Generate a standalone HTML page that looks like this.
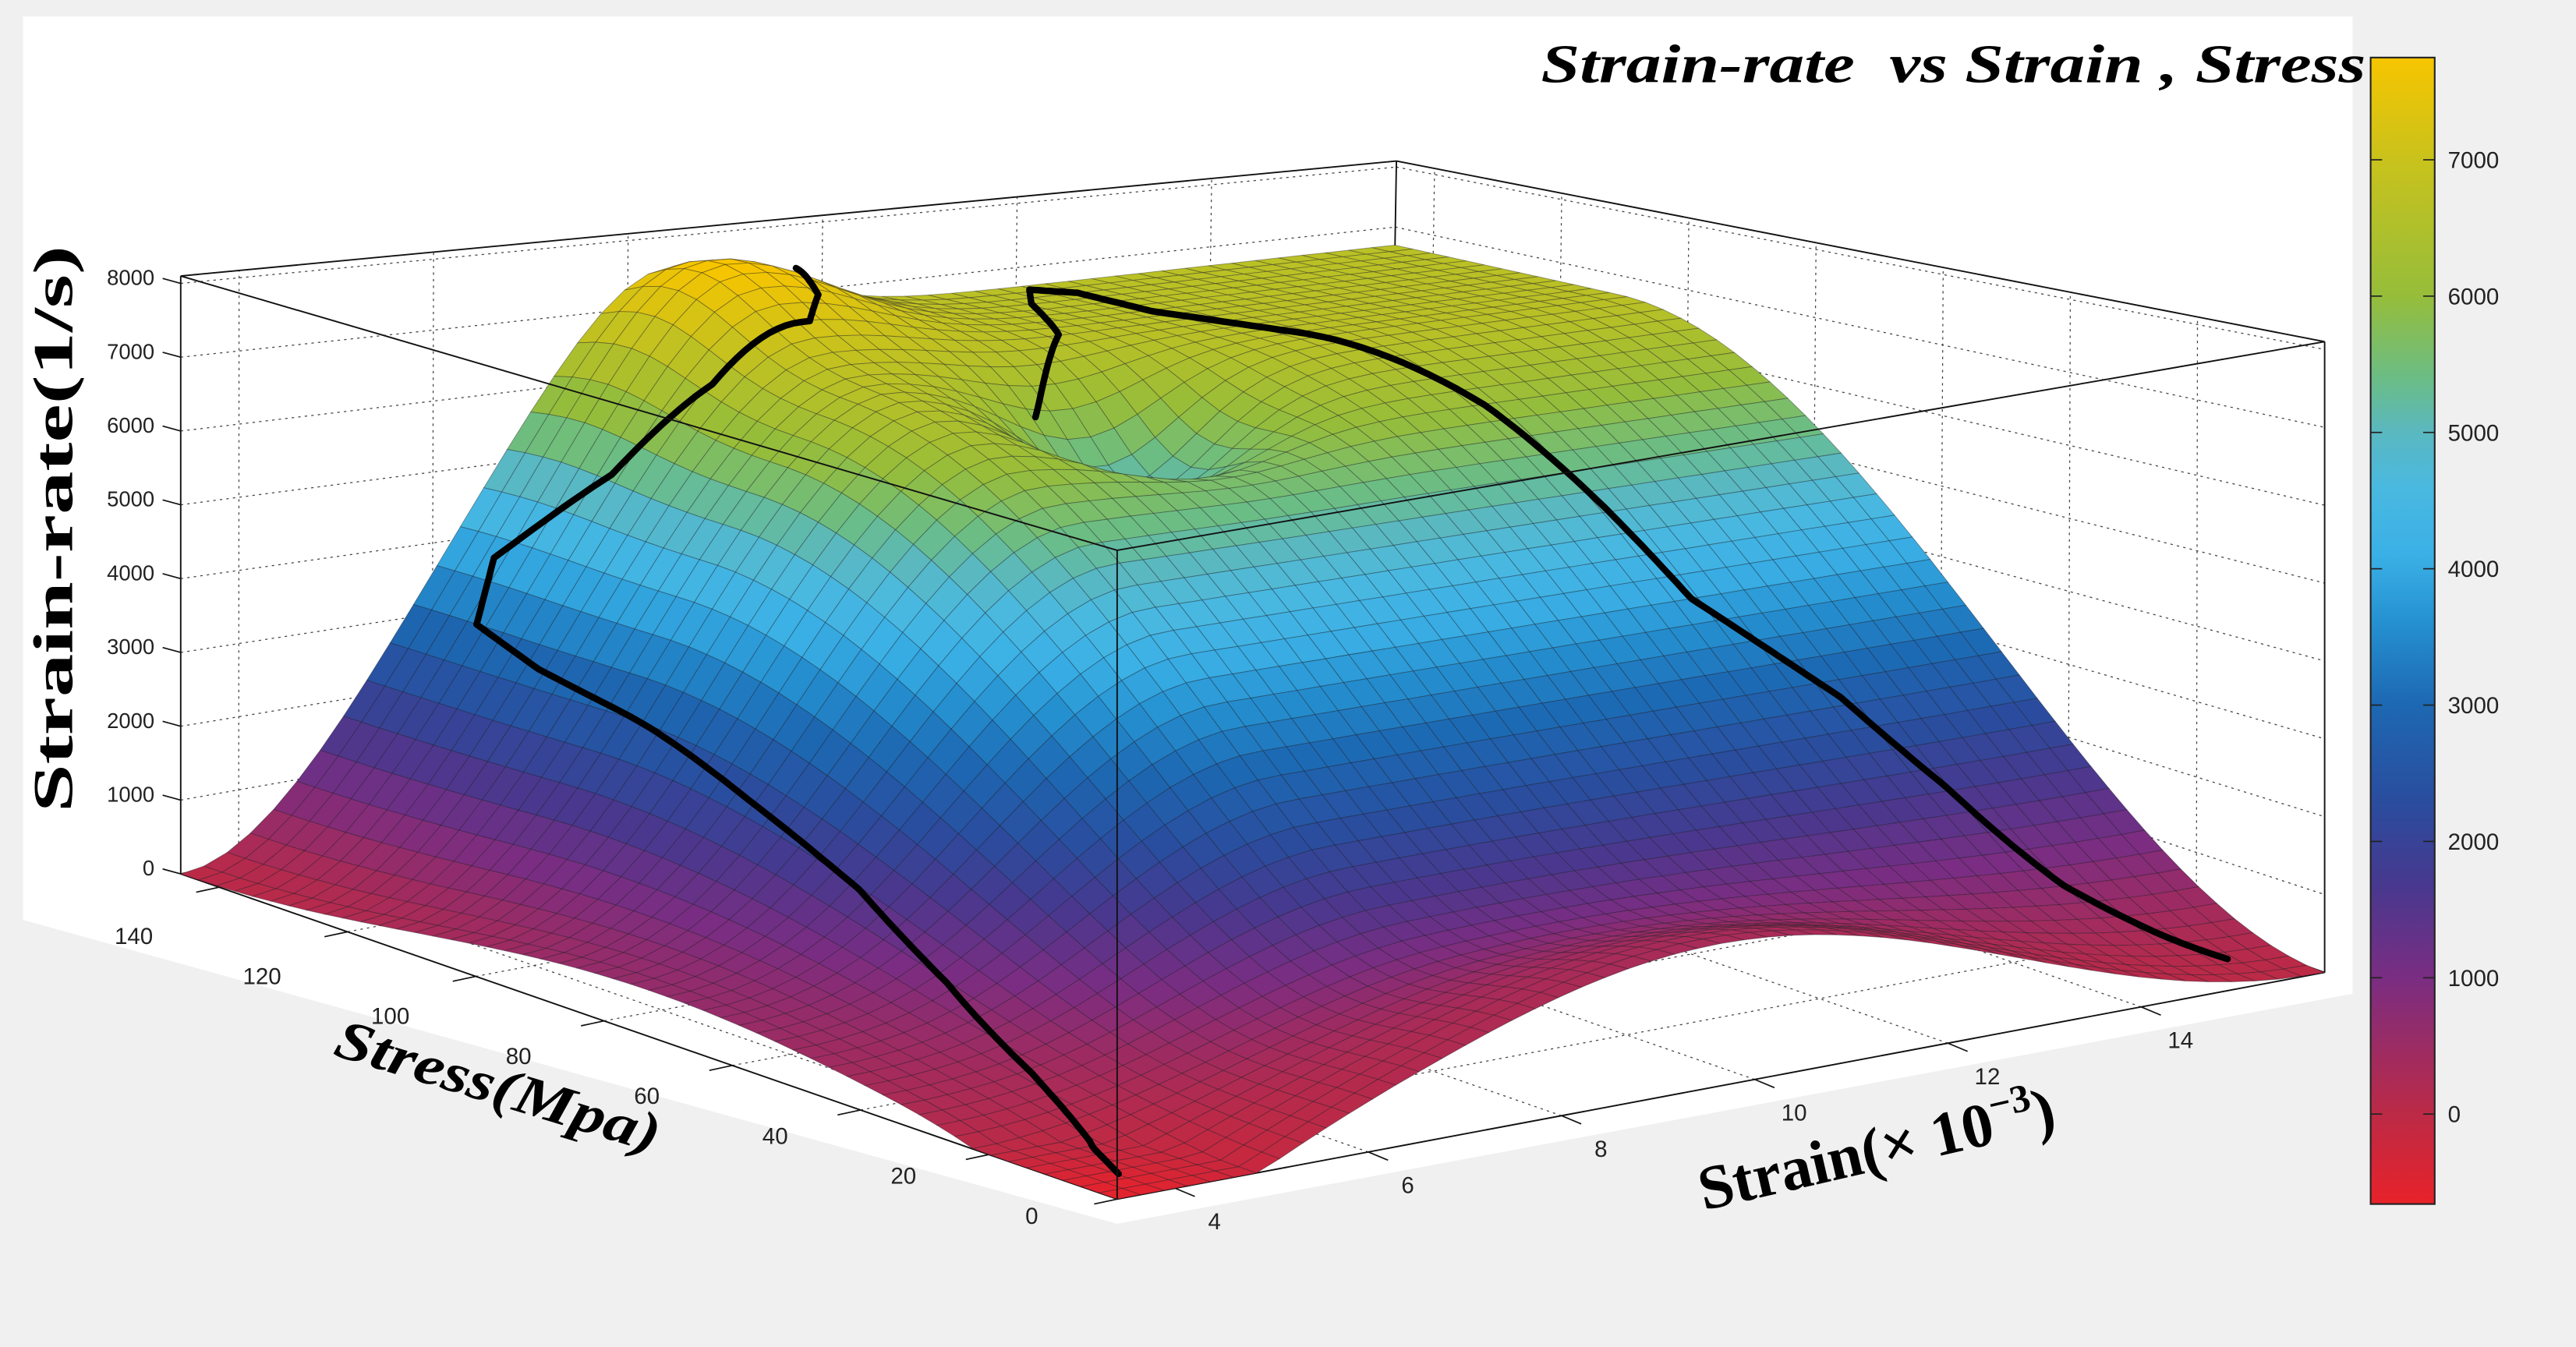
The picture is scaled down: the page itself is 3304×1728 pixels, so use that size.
<!DOCTYPE html>
<html><head><meta charset="utf-8">
<style>
html,body{margin:0;padding:0;background:#f0f0f0;}
svg{display:block;}
text{font-family:"Liberation Sans",sans-serif;}
</style></head>
<body>
<svg id="chart" xmlns="http://www.w3.org/2000/svg" width="3304" height="1728" viewBox="0 0 1568 820">
  <rect x="0" y="0" width="1568" height="820" fill="#f0f0f0"/>
  <polygon points="14,10 1432,10 1432,605 680,745 14,560" fill="#ffffff"/>
  <g id="panes"></g>
  <g id="surface"></g>
  <g id="curves"></g>
  <g id="front"></g>
  <g id="labels"></g>
  <g id="cbar"></g>
  <text x="938" y="50" textLength="502" lengthAdjust="spacingAndGlyphs" style="font-family:'Liberation Serif',serif;font-weight:bold;font-style:italic;font-size:33px;white-space:pre" fill="#000">Strain-rate  vs Strain , Stress</text>
  <text transform="translate(44,322) rotate(-90)" text-anchor="middle" textLength="345" lengthAdjust="spacingAndGlyphs" style="font-family:'Liberation Serif',serif;font-weight:bold;font-size:34px" fill="#000">Strain-rate(1/s)</text>
  <text transform="translate(300,672) rotate(17)" text-anchor="middle" textLength="205" lengthAdjust="spacingAndGlyphs" style="font-family:'Liberation Serif',serif;font-weight:bold;font-style:italic;font-size:34px" fill="#000">Stress(Mpa)</text>
  <text transform="translate(1145,712) rotate(-13)" text-anchor="middle" style="font-family:'Liberation Serif',serif;font-weight:bold;font-size:38px" fill="#000">Strain(× 10<tspan dy="-15" font-size="24">−3</tspan><tspan dy="15">)</tspan></text>
</svg>
<script>
const stressTicks=[0,20,40,60,80,100,120,140];
const strainTicks=[4,6,8,10,12,14];
const rateTicks=[0,1000,2000,3000,4000,5000,6000,7000,8000];
const cbarTicks=[0,1000,2000,3000,4000,5000,6000,7000];
const curve1Stress=[137.2,129.9,125.6,125.6,129.9,138.7,135.8,124.1,105.1,87.6,68.6,51.1,32.1,17.5,7.3];
const curve1Strain=[9.15,8.9,8.53,7.53,6.78,6.15,5.78,5.65,5.53,5.4,5.28,5.03,4.65,4.28,3.9];
const curve2Stress=[111.0,122.6,136.0,142.4,138.7,127.0,108.0,89.1,73.0,61.3,54.0,48.2,36.5,21.9,11.7,5.8];
const curve2Strain=[9.9,10.9,11.5,11.9,12.15,12.15,12.65,13.09,13.28,13.4,13.78,14.08,14.4,14.65,15.03,15.28];
const plateauLevel=[6700];
const peakAmp=[1100];
const dipAmp=[1600];

const SMIN=0,SMAX=146,EMIN=3.4,EMAX=15.9,ZTOP=8100;
const F0=[680,730],L0=[110,532],R0=[1415,592],B0=[845,394];
const F1=[680,335],L1=[110,168],R1=[1415,208],B1=[850,98];
const NS='http://www.w3.org/2000/svg';

function bil(F,L,R,B,u,v){return [F[0]*(1-u)*(1-v)+L[0]*u*(1-v)+R[0]*(1-u)*v+B[0]*u*v, F[1]*(1-u)*(1-v)+L[1]*u*(1-v)+R[1]*(1-u)*v+B[1]*u*v];}
function sq(x){return x*x;}
function lift(u,v){return 1500*sq(Math.sin(Math.PI*v))*Math.exp(-sq(u/0.15));}
function projUV(u,v,z){const f=bil(F0,L0,R0,B0,u,v),t=bil(F1,L1,R1,B1,u,v);const k=Math.max(0,Math.min(z+lift(u,v),ZTOP))/ZTOP;return [f[0]+(t[0]-f[0])*k,f[1]+(t[1]-f[1])*k];}
function uOf(s){return (s-SMIN)/(SMAX-SMIN);}
function vOf(e){return (e-EMIN)/(EMAX-EMIN);}
function P(s,e,z){const f=bil(F0,L0,R0,B0,uOf(s),vOf(e)),t=bil(F1,L1,R1,B1,uOf(s),vOf(e));const k=z/ZTOP;return [f[0]+(t[0]-f[0])*k,f[1]+(t[1]-f[1])*k];}
function sm(x){x=Math.max(0,Math.min(1,x));return x*x*(3-2*x);}
function surf(u,v){
  let b=plateauLevel[0]*sm(u/0.76)*sm(v/0.4);
  b+=peakAmp[0]*Math.exp(-(sq(u-0.95)/0.01+sq(v-0.41)/0.012));
  b-=dipAmp[0]*Math.exp(-(sq(u-0.70)/0.006+sq(v-0.55)/0.008));
  b+=300*sq(Math.sin(Math.PI*v))*Math.exp(-sq(u/0.18));
  b+=600*sq(Math.sin(Math.PI*u))*Math.exp(-sq(v/0.12));
  b-=600*Math.exp(-(u*u+v*v)/0.015);
  return b;
}
const cmV=[-660,0,1000,1700,2300,3000,3600,4100,4600,5000,5400,6000,7000,7750];
const cmC=['#e8222a','#bc2a46','#7a2d82','#46398f','#2a4d9e','#1d68b2','#2590d0','#3ab0e6','#4ab9e0','#5ab8c0','#6bbd85','#96bd3a','#c9c21c','#f7c500'];
function hex(c){return [parseInt(c.substr(1,2),16),parseInt(c.substr(3,2),16),parseInt(c.substr(5,2),16)];}
function cmap(z){
  if(z<=cmV[0])return cmC[0];
  for(let i=1;i<cmV.length;i++){if(z<=cmV[i]){const t=(z-cmV[i-1])/(cmV[i]-cmV[i-1]);const a=hex(cmC[i-1]),b=hex(cmC[i]);return 'rgb('+a.map((x,k)=>Math.round(x+(b[k]-x)*t)).join(',')+')';}}
  return cmC[cmC.length-1];
}
function line(g,a,b,st,w,dash,name){const l=document.createElementNS(NS,'line');l.setAttribute('x1',a[0]);l.setAttribute('y1',a[1]);l.setAttribute('x2',b[0]);l.setAttribute('y2',b[1]);l.setAttribute('stroke',st);l.setAttribute('stroke-width',w);if(dash)l.setAttribute('stroke-dasharray',dash);


g.appendChild(l);}
function txt(g,x,y,s,anchor,size,name){const t=document.createElementNS(NS,'text');t.setAttribute('x',x);t.setAttribute('y',y);t.setAttribute('text-anchor',anchor);t.setAttribute('font-size',size);t.setAttribute('fill','#222');t.textContent=s;


g.appendChild(t);}

const panes=document.getElementById('panes');
const dash='1.5 2.5', gc='#444';
rateTicks.forEach(z=>{line(panes,P(SMAX,EMIN,z),P(SMAX,EMAX,z),gc,0.6,dash,'left-wall-gridline');line(panes,P(SMAX,EMAX,z),P(SMIN,EMAX,z),gc,0.6,dash,'right-wall-gridline');});
stressTicks.forEach(s=>{line(panes,P(s,EMIN,0),P(s,EMAX,0),gc,0.6,dash,'floor-stress-gridline');line(panes,P(s,EMAX,0),P(s,EMAX,ZTOP),gc,0.6,dash,'wall-stress-gridline');});
strainTicks.forEach(e=>{line(panes,P(SMIN,e,0),P(SMAX,e,0),gc,0.6,dash,'floor-strain-gridline');line(panes,P(SMAX,e,0),P(SMAX,e,ZTOP),gc,0.6,dash,'wall-strain-gridline');});
[[L1,B1],[B1,R1],[B0,B1],[L0,B0],[B0,R0],[L0,L1],[R0,R1],[L0,F0],[F0,R0]].forEach(p=>line(panes,p[0],p[1],'#111',0.9,null,'box-edge'));
rateTicks.forEach(z=>{const p=P(SMAX,EMIN,z);line(panes,[p[0]-11,p[1]-3],p,'#111',0.8,null,'z-tick');});
stressTicks.forEach(s=>{const p=P(s,EMIN,0);line(panes,p,[p[0]-14,p[1]+3],'#111',0.8,null,'stress-tick');});
strainTicks.forEach(e=>{const p=P(SMIN,e,0);line(panes,p,[p[0]+12,p[1]+5],'#111',0.8,null,'strain-tick');});

const sg=document.getElementById('surface');
const N=52;const cells=[];
for(let i=0;i<N;i++)for(let j=0;j<N;j++)cells.push([i,j]);
cells.sort((a,b)=>(b[0]+b[1])-(a[0]+a[1]));
let html='';
cells.forEach(([i,j])=>{
  const us=[i/N,(i+1)/N],vs=[j/N,(j+1)/N];
  const zs=[surf(us[0],vs[0]),surf(us[1],vs[0]),surf(us[1],vs[1]),surf(us[0],vs[1])];
  const pts=[projUV(us[0],vs[0],zs[0]),projUV(us[1],vs[0],zs[1]),projUV(us[1],vs[1],zs[2]),projUV(us[0],vs[1],zs[3])];
  const zm=(zs[0]+zs[1]+zs[2]+zs[3])/4;
  html+='<polygon points="'+pts.map(p=>p[0].toFixed(1)+','+p[1].toFixed(1)).join(' ')+'" fill="'+cmap(zm)+'" stroke="rgba(20,20,30,0.38)" stroke-width="0.45"/>';
});
sg.innerHTML=html;

const cg=document.getElementById('curves');
function drawCurve(S,E,name){
  let d='';
  for(let k=0;k<S.length-1;k++){
    for(let t=0;t<12;t++){
      const f=t/12;const s=S[k]+(S[k+1]-S[k])*f,e=E[k]+(E[k+1]-E[k])*f;
      const u=uOf(s),v=vOf(e);const p=projUV(u,v,surf(u,v)+60);
      d+=(d?'L':'M')+p[0].toFixed(1)+','+p[1].toFixed(1);
    }
  }
  const n=S.length-1;const u=uOf(S[n]),v=vOf(E[n]);const p=projUV(u,v,surf(u,v)+60);d+='L'+p[0].toFixed(1)+','+p[1].toFixed(1);
  const el=document.createElementNS(NS,'path');el.setAttribute('d',d);el.setAttribute('fill','none');el.setAttribute('stroke','#000');el.setAttribute('stroke-width','4');el.setAttribute('stroke-linejoin','round');el.setAttribute('stroke-linecap','round');
  
  
  cg.appendChild(el);
}
drawCurve(curve1Stress,curve1Strain,'curve-left');
drawCurve(curve2Stress,curve2Strain,'curve-right');

const fg=document.getElementById('front');
[[L1,F1],[F1,R1],[F1,F0]].forEach(p=>line(fg,p[0],p[1],'#111',0.9,null,'box-front-edge'));

const lg=document.getElementById('labels');
rateTicks.forEach(z=>{const p=P(SMAX,EMIN,z);txt(lg,p[0]-16,p[1]+1,String(z),'end',13,'z-tick-label');});
stressTicks.forEach(s=>{const p=P(s,EMIN,0);txt(lg,p[0]-52,p[1]+15+s*0.14,String(s),'middle',14,'stress-tick-label');});
strainTicks.forEach(e=>{const p=P(SMIN,e,0);txt(lg,p[0]+24,p[1]+25,String(e),'middle',14,'strain-tick-label');});

const cb=document.getElementById('cbar');
const CBX=1443,CBW=39,CBT=35,CBB=733,CMAX=7750,CMIN=-660;
function cbY(v){return CBT+(CMAX-v)/(CMAX-CMIN)*(CBB-CBT);}
let cbh='<defs><linearGradient id="cbg" x1="0" y1="1" x2="0" y2="0">';
cmV.forEach((v,i)=>{cbh+='<stop offset="'+((v-CMIN)/(CMAX-CMIN)).toFixed(4)+'" stop-color="'+cmC[i]+'"/>';});
cbh+='</linearGradient></defs>';
cb.innerHTML=cbh;
const r=document.createElementNS(NS,'rect');r.setAttribute('x',CBX);r.setAttribute('y',CBT);r.setAttribute('width',CBW);r.setAttribute('height',CBB-CBT);r.setAttribute('fill','url(#cbg)');r.setAttribute('stroke','#222');r.setAttribute('stroke-width','1');


cb.appendChild(r);
cbarTicks.forEach(v=>{const y=cbY(v);line(cb,[CBX,y],[CBX+7,y],'#222',0.8,null,'colorbar-tick');line(cb,[CBX+CBW-7,y],[CBX+CBW,y],'#222',0.8,null,'colorbar-tick');txt(cb,CBX+CBW+8,y+5,String(v),'start',14,'colorbar-tick-label');});
</script>
</body></html>
